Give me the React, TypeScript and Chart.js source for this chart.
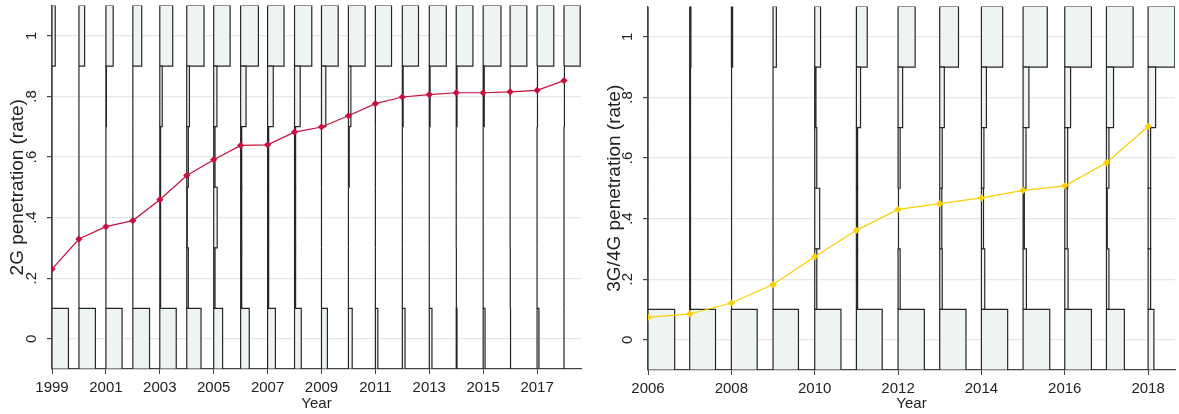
import { useEffect, useRef } from 'react';
import { Chart, registerables } from 'chart.js';

Chart.register(...registerables);

// Rate bins (lower/upper edges) shared by both panels
const BIN_EDGES = [-0.1, 0.1, 0.3, 0.5, 0.7, 0.9, 1.1];
const Y_TICK_VALUES = [0, 0.2, 0.4, 0.6, 0.8, 1];
const Y_TICK_LABELS = ['0', '.2', '.4', '.6', '.8', '1'];

// ---- 2G panel ----
const YEARS_2G = [1999, 2000, 2001, 2002, 2003, 2004, 2005, 2006, 2007, 2008, 2009, 2010, 2011, 2012, 2013, 2014, 2015, 2016, 2017, 2018];
const RATE_2G = [0.23, 0.329, 0.37, 0.39, 0.459, 0.539, 0.591, 0.638, 0.64, 0.682, 0.699, 0.736, 0.776, 0.798, 0.806, 0.812, 0.812, 0.815, 0.82, 0.852];
const X_TICKS_2G = [1999, 2001, 2003, 2005, 2007, 2009, 2011, 2013, 2015, 2017];
// Horizontal bar length (in years) of each rate bin, per year
const BIN0_2G = [0.61, 0.61, 0.6, 0.62, 0.61, 0.53, 0.33, 0.32, 0.29, 0.25, 0.22, 0.14, 0.09, 0.1, 0.1, 0.03, 0.07, 0.03, 0.07, 0];
const BIN1_2G = [0, 0, 0, 0, 0.03, 0.06, 0.05, 0.04, 0.04, 0.04, 0, 0, 0, 0, 0, 0.01, 0, 0.01, 0, 0];
const BIN2_2G = [0, 0, 0, 0, 0.03, 0.02, 0.13, 0.04, 0.04, 0.04, 0, 0, 0, 0, 0, 0, 0, 0, 0, 0];
const BIN3_2G = [0, 0, 0, 0, 0.03, 0.06, 0.05, 0.04, 0.04, 0.04, 0, 0.03, 0, 0, 0, 0, 0, 0, 0, 0];
const BIN4_2G = [0, 0, 0.02, 0, 0.09, 0.1, 0.12, 0.2, 0.21, 0.21, 0.16, 0.09, 0, 0.03, 0.03, 0.03, 0.04, 0, 0.03, 0.03];
const BIN5_2G = [0.12, 0.21, 0.27, 0.33, 0.48, 0.64, 0.61, 0.66, 0.61, 0.64, 0.62, 0.62, 0.6, 0.6, 0.63, 0.62, 0.66, 0.62, 0.62, 0.6];

// ---- 3G/4G panel ----
const YEARS_34G = [2006, 2007, 2008, 2009, 2010, 2011, 2012, 2013, 2014, 2015, 2016, 2017, 2018];
const RATE_34G = [0.074, 0.085, 0.121, 0.182, 0.274, 0.361, 0.43, 0.449, 0.468, 0.493, 0.508, 0.584, 0.704];
const X_TICKS_34G = [2006, 2008, 2010, 2012, 2014, 2016, 2018];
const BIN0_34G = [0.64, 0.62, 0.62, 0.61, 0.63, 0.62, 0.63, 0.63, 0.63, 0.64, 0.64, 0.43, 0.14];
const BIN1_34G = [0, 0.02, 0.01, 0, 0.05, 0.03, 0.05, 0.06, 0.08, 0.08, 0.08, 0.06, 0.06];
const BIN2_34G = [0, 0.02, 0.01, 0, 0.12, 0.03, 0.02, 0.05, 0.05, 0.03, 0.06, 0.02, 0.06];
const BIN3_34G = [0, 0.02, 0.01, 0, 0.05, 0.03, 0.05, 0.06, 0.06, 0.07, 0.07, 0.06, 0.06];
const BIN4_34G = [0, 0.02, 0.01, 0, 0.03, 0.1, 0.11, 0.11, 0.12, 0.14, 0.14, 0.17, 0.18];
const BIN5_34G = [0, 0.03, 0.03, 0.08, 0.14, 0.26, 0.41, 0.45, 0.51, 0.58, 0.64, 0.64, 0.64];

const FONT = "'Liberation Sans', Arial, sans-serif";
const TEXT = '#222222';
const AXIS = '#444444';
const BOX_EDGE = '#262626';
const BOX_FILL = '#edf4f2';

type PanelSpec = {
  years: number[];
  rate: number[];
  bins: number[][];
  xTicks: number[];
  xMin: number;
  xMax: number;
  color: string;
  yTitle: string;
  left: number;
  width: number;
  yAxisWidth: number;
  xAxisHeight: number;
  padTop: number;
  padRight: number;
  yTitlePad: number;
};

const PANELS: PanelSpec[] = [
  {
    years: YEARS_2G, rate: RATE_2G,
    bins: [BIN0_2G, BIN1_2G, BIN2_2G, BIN3_2G, BIN4_2G, BIN5_2G],
    xTicks: X_TICKS_2G, xMin: 1999, xMax: 2018.63,
    color: '#c8103e', yTitle: '2G penetration (rate)',
    left: 0, width: 590, yAxisWidth: 52, xAxisHeight: 45, padTop: 5.5, padRight: 9, yTitlePad: 6,
  },
  {
    years: YEARS_34G, rate: RATE_34G,
    bins: [BIN0_34G, BIN1_34G, BIN2_34G, BIN3_34G, BIN4_34G, BIN5_34G],
    xTicks: X_TICKS_34G, xMin: 2006, xMax: 2018.645,
    color: '#fccf00', yTitle: '3G/4G penetration (rate)',
    left: 590, width: 589, yAxisWidth: 58, xAxisHeight: 44, padTop: 6.5, padRight: 2, yTitlePad: 13,
  },
];

const HEIGHT = 414;

// Closed outline of one bin bar: starts at the year, extends right by its length
function barOutline(year: number, length: number, lo: number, hi: number) {
  return [
    { x: year, y: lo },
    { x: year + length, y: lo },
    { x: year + length, y: hi },
    { x: year, y: hi },
    { x: year, y: lo },
  ];
}

function PanelChart({ spec }: { spec: PanelSpec }) {
  const ref = useRef<HTMLCanvasElement | null>(null);

  useEffect(() => {
    if (!ref.current) return;
    const datasets: any[] = [
      {
        type: 'line',
        data: spec.years.map((y, i) => ({ x: y, y: spec.rate[i] })),
        borderColor: spec.color,
        borderWidth: 1.2,
        backgroundColor: spec.color,
        pointStyle: 'rectRot',
        pointRadius: 3.6,
        pointBorderWidth: 0,
        pointBackgroundColor: spec.color,
        fill: false,
        tension: 0,
        order: 0,
      },
    ];
    spec.years.forEach((year, i) => {
      spec.bins.forEach((bin, b) => {
        datasets.push({
          type: 'line',
          data: barOutline(year, bin[i], BIN_EDGES[b], BIN_EDGES[b + 1]),
          borderColor: BOX_EDGE,
          borderWidth: 1.2,
          backgroundColor: BOX_FILL,
          fill: 'shape',
          pointRadius: 0,
          pointHoverRadius: 0,
          tension: 0,
          borderJoinStyle: 'miter',
          order: 1,
        });
      });
    });

    const chart = new Chart(ref.current, {
      type: 'line',
      data: { datasets },
      options: {
        responsive: false,
        animation: false,
        events: [],
        layout: { padding: { left: 0, right: spec.padRight, top: spec.padTop, bottom: 0 } },
        plugins: { legend: { display: false }, tooltip: { enabled: false } },
        scales: {
          x: {
            type: 'linear',
            min: spec.xMin,
            max: spec.xMax,
            afterBuildTicks: (s: any) => {
              s.ticks = spec.xTicks.map((v) => ({ value: v }));
            },
            afterFit: (s: any) => {
              s.height = spec.xAxisHeight;
              s.paddingLeft = 0;
              s.paddingRight = 0;
            },
            ticks: {
              autoSkip: false,
              maxRotation: 0,
              minRotation: 0,
              padding: 5,
              color: TEXT,
              font: { family: FONT, size: 15 },
              callback: (v: any) => String(v),
            },
            grid: { drawOnChartArea: false, drawTicks: true, tickLength: 5, tickColor: AXIS, color: AXIS },
            border: { display: true, color: AXIS, width: 1.2 },
            title: {
              display: true,
              text: 'Year',
              color: TEXT,
              font: { family: FONT, size: 15 },
              padding: { top: 0, bottom: 1 },
            },
          },
          y: {
            type: 'linear',
            min: -0.1,
            max: 1.1,
            afterBuildTicks: (s: any) => {
              s.ticks = Y_TICK_VALUES.map((v) => ({ value: v }));
            },
            afterFit: (s: any) => {
              s.width = spec.yAxisWidth;
              s.paddingTop = 0;
              s.paddingBottom = 0;
            },
            ticks: {
              minRotation: 90,
              maxRotation: 90,
              crossAlign: 'center',
              padding: 9,
              color: TEXT,
              font: { family: FONT, size: 15 },
              callback: (v: any) => Y_TICK_LABELS[Y_TICK_VALUES.indexOf(v)],
            },
            grid: { color: '#e6e6e6', lineWidth: 1.2, tickLength: 5, tickColor: AXIS },
            border: { display: true, color: AXIS, width: 1.2 },
            title: {
              display: true,
              text: spec.yTitle,
              color: TEXT,
              font: { family: FONT, size: 19 },
              padding: { top: spec.yTitlePad, bottom: 0 },
            },
          },
        },
      } as any,
    });
    return () => chart.destroy();
  }, [spec]);

  return (
    <canvas
      ref={ref}
      width={spec.width}
      height={HEIGHT}
      style={{ display: 'block', width: spec.width, height: HEIGHT }}
    />
  );
}

export default function App() {
  return (
    <div style={{ position: 'fixed', left: 0, top: 0, width: 1179, height: HEIGHT, background: '#ffffff' }}>
      {PANELS.map((p) => (
        <div key={p.yTitle} style={{ position: 'absolute', left: p.left, top: 0 }}>
          <PanelChart spec={p} />
        </div>
      ))}
    </div>
  );
}
